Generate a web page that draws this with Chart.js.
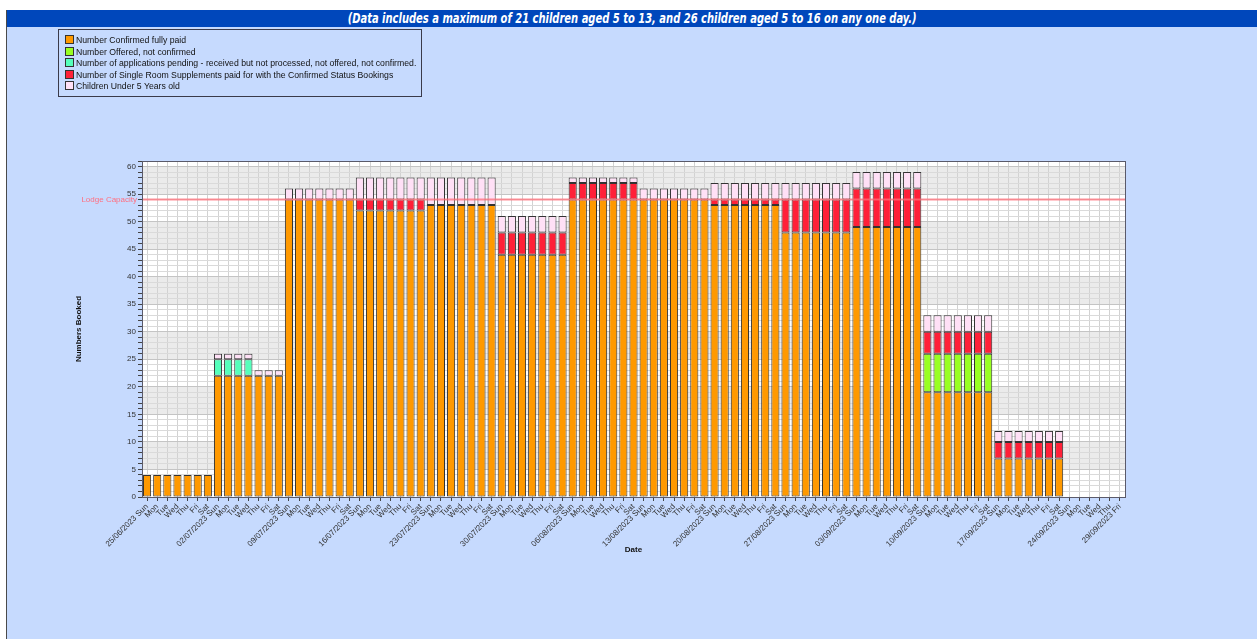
<!DOCTYPE html>
<html>
<head>
<meta charset="utf-8">
<script src="https://cdn.jsdelivr.net/npm/chart.js@4/dist/chart.umd.min.js"></script>
<style>
  html, body { margin: 0; padding: 0; width: 1257px; height: 639px; overflow: hidden; background: #ffffff; }
  #panel { position: absolute; left: 6px; top: 10px; width: 1251px; height: 629px; background: #c6dafe; border-left: 1px solid #4a4a4a; }
  #titlebar { position: absolute; left: 7px; top: 10px; width: 1250px; height: 17px; background: #0047bb; color: #fff;
    font-family: "Liberation Sans Narrow", "DejaVu Sans Condensed", "Arial Narrow", sans-serif; font-weight: bold; font-style: italic;
    font-size: 14px; line-height: 17px; text-align: center; }
  #titlebar span { display: inline-block; transform: scaleX(0.79); transform-origin: center; white-space: nowrap; }
  #legend { position: absolute; left: 58px; top: 29px; width: 364px; height: 68px; border: 1px solid #3a3a4a; box-sizing: border-box;
    font-family: "Liberation Sans", Arial, sans-serif; font-size: 8.7px; color: #111; }
  .li { position: absolute; left: 6px; height: 11px; line-height: 11px; white-space: nowrap; }
  .sw { display: inline-block; width: 7px; height: 7px; border: 1px solid #333; vertical-align: -1px; margin-right: 2px; }
  canvas { position: absolute; left: 0; top: 0; }
</style>
</head>
<body>
<div id="panel"></div>
<div id="titlebar"><span>(Data includes a maximum of 21 children aged 5 to 13, and 26 children aged 5 to 16 on any one day.)</span></div>
<canvas id="c" width="1257" height="639"></canvas>
<div id="legend"></div>
<script>
// ---------- categories (dates) ----------
const categories = [
 '25/06/2023 Sun','Mon','Tue','Wed','Thu','Fri','Sat',
 '02/07/2023 Sun','Mon','Tue','Wed','Thu','Fri','Sat',
 '09/07/2023 Sun','Mon','Tue','Wed','Thu','Fri','Sat',
 '16/07/2023 Sun','Mon','Tue','Wed','Thu','Fri','Sat',
 '23/07/2023 Sun','Mon','Tue','Wed','Thu','Fri','Sat',
 '30/07/2023 Sun','Mon','Tue','Wed','Thu','Fri','Sat',
 '06/08/2023 Sun','Mon','Tue','Wed','Thu','Fri','Sat',
 '13/08/2023 Sun','Mon','Tue','Wed','Thu','Fri','Sat',
 '20/08/2023 Sun','Mon','Tue','Wed','Thu','Fri','Sat',
 '27/08/2023 Sun','Mon','Tue','Wed','Thu','Fri','Sat',
 '03/09/2023 Sun','Mon','Tue','Wed','Thu','Fri','Sat',
 '10/09/2023 Sun','Mon','Tue','Wed','Thu','Fri','Sat',
 '17/09/2023 Sun','Mon','Tue','Wed','Thu','Fri','Sat',
 '24/09/2023 Sun','Mon','Tue','Wed','Thu','29/09/2023 Fri'
];

// ---------- series values ----------
const confirmedPaid = [
 4,4,4,4,4,4,4,
 22,22,22,22,22,22,22,
 54,54,54,54,54,54,54,
 52,52,52,52,52,52,52,
 53,53,53,53,53,53,53,
 44,44,44,44,44,44,44,
 54,54,54,54,54,54,54,
 54,54,54,54,54,54,54,
 53,53,53,53,53,53,53,
 48,48,48,48,48,48,48,
 49,49,49,49,49,49,49,
 19,19,19,19,19,19,19,
 7,7,7,7,7,7,7,
 0,0,0,0,0,0
];
const offeredNotConfirmed = [
 0,0,0,0,0,0,0,
 0,0,0,0,0,0,0,
 0,0,0,0,0,0,0,
 0,0,0,0,0,0,0,
 0,0,0,0,0,0,0,
 0,0,0,0,0,0,0,
 0,0,0,0,0,0,0,
 0,0,0,0,0,0,0,
 0,0,0,0,0,0,0,
 0,0,0,0,0,0,0,
 0,0,0,0,0,0,0,
 7,7,7,7,7,7,7,
 0,0,0,0,0,0,0,
 0,0,0,0,0,0
];
const pending = [
 0,0,0,0,0,0,0,
 3,3,3,3,0,0,0,
 0,0,0,0,0,0,0,
 0,0,0,0,0,0,0,
 0,0,0,0,0,0,0,
 0,0,0,0,0,0,0,
 0,0,0,0,0,0,0,
 0,0,0,0,0,0,0,
 0,0,0,0,0,0,0,
 0,0,0,0,0,0,0,
 0,0,0,0,0,0,0,
 0,0,0,0,0,0,0,
 0,0,0,0,0,0,0,
 0,0,0,0,0,0
];
const singleRoom = [
 0,0,0,0,0,0,0,
 0,0,0,0,0,0,0,
 0,0,0,0,0,0,0,
 2,2,2,2,2,2,2,
 0,0,0,0,0,0,0,
 4,4,4,4,4,4,4,
 3,3,3,3,3,3,3,
 0,0,0,0,0,0,0,
 1,1,1,1,1,1,1,
 6,6,6,6,6,6,6,
 7,7,7,7,7,7,7,
 4,4,4,4,4,4,4,
 3,3,3,3,3,3,3,
 0,0,0,0,0,0
];
const underFive = [
 0,0,0,0,0,0,0,
 1,1,1,1,1,1,1,
 2,2,2,2,2,2,2,
 4,4,4,4,4,4,4,
 5,5,5,5,5,5,5,
 3,3,3,3,3,3,3,
 1,1,1,1,1,1,1,
 2,2,2,2,2,2,2,
 3,3,3,3,3,3,3,
 3,3,3,3,3,3,3,
 3,3,3,3,3,3,3,
 3,3,3,3,3,3,3,
 2,2,2,2,2,2,2,
 0,0,0,0,0,0
];
const seriesNames = [
 'Number Confirmed fully paid',
 'Number Offered, not confirmed',
 'Number of applications pending - received but not processed, not offered, not confirmed.',
 'Number of Single Room Supplements paid for with the Confirmed Status Bookings',
 'Children Under 5 Years old'
];
const lodgeCapacity = 54;
const yMax = 61;

const colors = ['#ff9900', '#99ff22', '#55ffbb', '#ff2038', '#ffe0f6'];
const seriesData = [confirmedPaid, offeredNotConfirmed, pending, singleRoom, underFive];

// ---------- legend (HTML, built from the series) ----------
const lg = document.getElementById('legend');
seriesNames.forEach((n, i) => {
  const d = document.createElement('div');
  d.className = 'li';
  d.style.top = (5 + i * 11.5) + 'px';
  d.innerHTML = '<span class="sw" style="background:' + colors[i] + '"></span>';
  d.appendChild(document.createTextNode(n));
  lg.appendChild(d);
});

// ---------- plugins ----------
const bandsPlugin = {
  id: 'bands',
  beforeDraw(chart) {
    const { ctx, chartArea: a, scales: { y } } = chart;
    ctx.save();
    ctx.fillStyle = '#ffffff';
    ctx.fillRect(a.left, a.top, a.right - a.left, a.bottom - a.top);
    ctx.fillStyle = '#ebebeb';
    for (let v = 5; v < 60; v += 10) {
      const t = y.getPixelForValue(v + 5), b = y.getPixelForValue(v);
      ctx.fillRect(a.left, t, a.right - a.left, b - t);
    }
    ctx.restore();
  }
};
const capacityPlugin = {
  id: 'capacity',
  afterDatasetsDraw(chart) {
    const { ctx, chartArea: a, scales: { y } } = chart;
    const py = y.getPixelForValue(lodgeCapacity);
    ctx.save();
    ctx.strokeStyle = 'rgba(255,110,120,0.75)';
    ctx.lineWidth = 2;
    ctx.beginPath();
    ctx.moveTo(a.left, py);
    ctx.lineTo(a.right, py);
    ctx.stroke();
    ctx.fillStyle = '#ff6f80';
    ctx.font = '8px "Liberation Sans", Arial, sans-serif';
    ctx.textAlign = 'right';
    ctx.textBaseline = 'middle';
    ctx.fillText('Lodge Capacity', a.left - 5, py + 0.5);
    ctx.restore();
  },
  afterDraw(chart) {
    const { ctx, chartArea: a } = chart;
    ctx.save();
    ctx.strokeStyle = '#5a5a6a';
    ctx.lineWidth = 1;
    ctx.strokeRect(Math.round(a.left) + 0.5, Math.round(a.top) + 0.5, Math.round(a.right - a.left), Math.round(a.bottom - a.top));
    ctx.restore();
  }
};

const tickFont = { family: '"Liberation Sans", Arial, sans-serif', size: 8 };

new Chart(document.getElementById('c'), {
  type: 'bar',
  data: {
    labels: categories,
    datasets: seriesData.map((d, i) => ({
      label: seriesNames[i],
      data: d,
      backgroundColor: colors[i],
      borderColor: '#333333',
      borderWidth: 1,
      borderSkipped: false,
      barPercentage: 0.8,
      categoryPercentage: 1.0
    }))
  },
  options: {
    responsive: false,
    animation: false,
    devicePixelRatio: 1,
    layout: { padding: { left: 68, right: 132, top: 161, bottom: 82 } },
    plugins: { legend: { display: false }, tooltip: { enabled: false } },
    scales: {
      x: {
        stacked: true,
        offset: true,
        grid: { offset: false, color: '#d2d2d2', tickColor: '#444', tickLength: 4 },
        border: { color: '#5a5a6a' },
        ticks: { autoSkip: false, minRotation: 45, maxRotation: 45, color: '#333', font: tickFont, padding: 1 },
        title: { display: true, text: 'Date', color: '#111', font: { family: '"Liberation Sans", Arial, sans-serif', size: 8, weight: 'bold' }, padding: 2 },
        afterFit(s) { s.height = 60; }
      },
      y: {
        stacked: true,
        min: 0,
        max: yMax,
        grid: { color: c => (c.tick && c.tick.value % 5 === 0) ? '#c4c4c4' : '#dadada', tickColor: '#444', tickLength: 4 },
        border: { color: '#5a5a6a' },
        ticks: { autoSkip: false, stepSize: 1, color: '#333', font: tickFont, padding: 2,
          callback: v => (v % 5 === 0 ? String(v) : '') },
        title: { display: true, text: 'Numbers Booked', color: '#111', font: { family: '"Liberation Sans", Arial, sans-serif', size: 8, weight: 'bold' }, padding: 6 },
        afterFit(s) { s.width = 74; }
      }
    }
  },
  plugins: [bandsPlugin, capacityPlugin]
});
</script>
</body>
</html>
